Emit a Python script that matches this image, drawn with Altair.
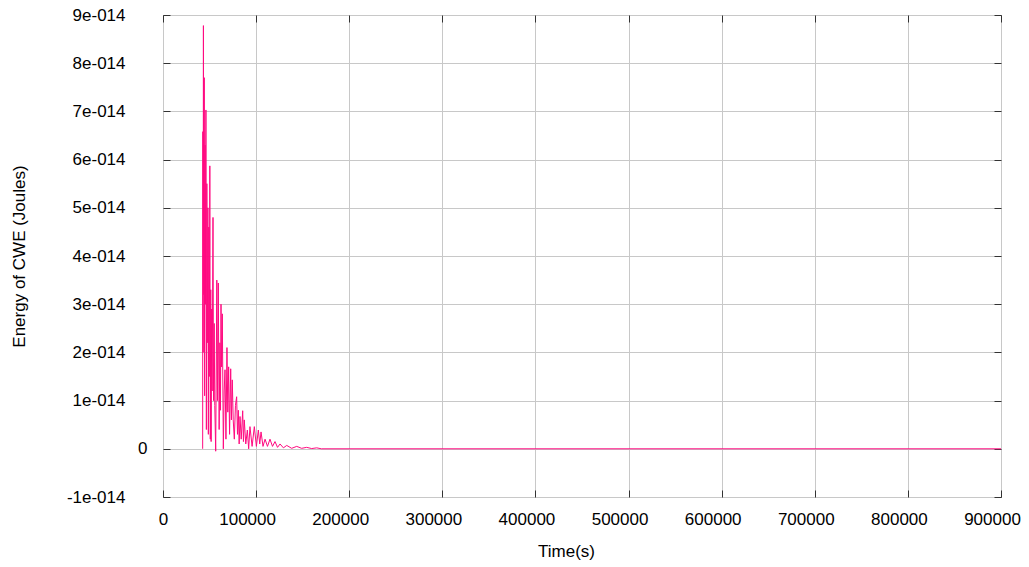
import altair as alt
import pandas as pd

# Energy of the CWE over time: time in seconds, energy in units of 1e-14 J
time_s = [
    42600, 42800, 43100, 43400, 43800, 44300, 44700, 45200, 45600, 46100,
    46600, 47100, 47600, 48200, 48700, 49200, 49700, 50300, 50800, 51300,
    51700, 52300, 52800, 53700, 54300, 55000, 55600, 56600, 57800, 58500,
    59400, 60300, 61100, 61700, 62300, 62900, 63700, 64800, 65700, 66600,
    67600, 68700, 69600, 70500, 71500, 72700, 73500, 74400, 75400, 76600,
    77800, 79100, 80000, 80900, 81800, 82700, 84000, 85600, 86400, 87300,
    88900, 90600, 92000, 93400, 95700, 98100, 100300, 102400, 103900, 105300,
    107400, 109600, 112200, 114900, 117600, 120300, 123000, 125700, 129300, 132900,
    138200, 143600, 148900, 154300, 159700, 165100, 170000, 900000,
]
energy_e14 = [
    0.0, 6.58, 2.0, 8.78, 3.2, 7.7, 1.1, 6.3, 3.0, 7.03,
    0.4, 5.5, 2.2, 5.0, 0.3, 4.6, 1.5, 5.87, 0.2, 3.3,
    0.15, 2.9, 1.2, 4.8, 1.0, 2.6, 0.9, -0.05, 3.5, 1.0,
    3.44, 0.4, 2.2, 0.8, 3.0, 1.7, 2.8, 0.0, 1.2, 1.64,
    0.2, 2.1, 0.76, 1.7, 0.3, 1.66, 0.6, 1.43, 0.6, 0.2,
    0.9, 1.08, 0.3, 0.8, 0.1, 0.67, 0.2, 0.79, 0.15, 0.6,
    0.1, 0.39, 0.0, 0.46, 0.05, 0.46, 0.05, 0.39, 0.1, 0.35,
    0.05, 0.2, 0.05, 0.2, 0.05, 0.15, 0.03, 0.1, 0.02, 0.07,
    0.01, 0.05, 0.01, 0.03, 0.005, 0.02, 0.0, 0.0,
]

x_ticks = [0, 100000, 200000, 300000, 400000, 500000, 600000, 700000, 800000, 900000]
y_ticks_e14 = [-1, 0, 1, 2, 3, 4, 5, 6, 7, 8, 9]

df = pd.DataFrame({"t": time_s, "E": [v * 1e-14 for v in energy_e14]})
y_ticks = [v * 1e-14 for v in y_ticks_e14]

FONT = "Liberation Sans"
xscale = alt.Scale(domain=[0, 900000], nice=False, zero=False)
yscale = alt.Scale(domain=[-1e-14, 9e-14], nice=False, zero=False)

base = alt.Chart(df)

line = base.mark_line(color="#ff0a80", strokeWidth=1, clip=True).encode(
    x=alt.X(
        "t:Q", scale=xscale,
        axis=alt.Axis(
            orient="bottom", values=x_ticks, format="d", title="Time(s)",
            grid=True, gridColor="#c8c8c8", gridWidth=1,
            ticks=False, domain=False, labelPadding=14, titlePadding=16,
            titleX=403,
            labelFlush=False, labelOverlap=False,
            labelOffset={"condition": {"test": "datum.value == 0", "value": 0}, "value": -9},
            labelFont=FONT, labelFontSize=17, labelColor="#000",
            titleFont=FONT, titleFontSize=17, titleFontWeight="normal", titleColor="#000",
        ),
    ),
    y=alt.Y(
        "E:Q", scale=yscale,
        axis=alt.Axis(
            orient="left", values=y_ticks,
            labelExpr="datum.value == 0 ? '0' : round(datum.value * 1e14) + 'e-014'",
            title="Energy of CWE (Joules)",
            grid=True, gridColor="#c8c8c8", gridWidth=1,
            ticks=False, domain=False, titlePadding=38,
            labelPadding={"condition": {"test": "datum.value == 0", "value": 16}, "value": 38},
            labelFlush=False, labelOverlap=False,
            labelFont=FONT, labelFontSize=17, labelColor="#000",
            titleFont=FONT, titleFontSize=17, titleFontWeight="normal", titleColor="#000",
        ),
    ),
)


def inner_ticks(xorient, yorient):
    """Invisible layer whose only job is to draw inward-pointing tick marks."""
    tick_axis = dict(labels=False, domain=False, grid=False, ticks=True,
                     tickSize=7, tickColor="#333333", tickWidth=1,
                     offset=-7, title=None)
    return base.mark_line(opacity=0).encode(
        x=alt.X("t:Q", scale=xscale, axis=alt.Axis(orient=xorient, values=x_ticks, **tick_axis)),
        y=alt.Y("E:Q", scale=yscale, axis=alt.Axis(orient=yorient, values=y_ticks, **tick_axis)),
    )


chart = (
    alt.layer(line, inner_ticks("bottom", "left"), inner_ticks("top", "right"))
    .resolve_axis(x="independent", y="independent")
    .properties(
        width=838, height=482,
        autosize=alt.AutoSizeParams(type="none"),
        padding={"left": 163, "top": 15, "right": 28, "bottom": 70},
        background="white",
    )
    .configure_view(stroke="#000000", strokeWidth=1)
)

chart.save("out.html", embed_options={"renderer": "svg", "actions": False})
